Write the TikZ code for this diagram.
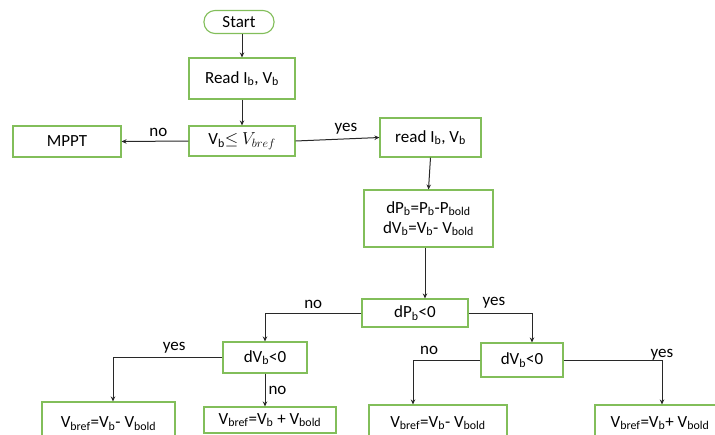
\documentclass[tikz,border=0pt]{standalone}
\usepackage{fontspec}
\setmainfont{Carlito}
\usetikzlibrary{arrows.meta}
\definecolor{boxgreen}{RGB}{130,190,90}
\definecolor{linegray}{RGB}{40,40,40}
\newcommand{\sbx}[1]{\textsubscript{#1}}
\tikzset{
  fbox/.style={draw=boxgreen, line width=1.1pt, fill=white, inner sep=0pt, align=center, font=\fontsize{17}{20}\selectfont},
  arr/.style={draw=linegray, line width=1pt, -{Stealth[length=5pt,width=4.5pt]}},
  lbl/.style={font=\fontsize{17}{20}\selectfont, inner sep=0pt}
}
\begin{document}
\begin{tikzpicture}[x=1pt,y=-1pt]
\useasboundingbox (0,0) rectangle (715,434);
\clip (0,0) rectangle (715,434);
\node[fbox, rounded corners=11pt, minimum width=70pt, minimum height=23pt] (start) at (239,22) {Start};
\node[fbox, minimum width=106pt, minimum height=41pt] (read1) at (242,78.5) {Read I\sbx{b}, V\sbx{b}};
\node[fbox, minimum width=106pt, minimum height=30pt] (cond1) at (242,141) {V\sbx{b}$\leq$ $V_{bref}$};
\node[fbox, minimum width=108pt, minimum height=31pt] (mppt) at (67,141.5) {MPPT};
\node[fbox, minimum width=101pt, minimum height=39pt] (read2) at (430.5,137.5) {read I\sbx{b}, V\sbx{b}};
\node[fbox, minimum width=129pt, minimum height=57pt] (calc) at (428.5,218.5) {dP\sbx{b}=P\sbx{b}-P\sbx{bold}\\[0pt]dV\sbx{b}=V\sbx{b}- V\sbx{bold}};
\node[fbox, minimum width=106pt, minimum height=28pt] (cond2) at (415,313) {dP\sbx{b}<0};
\node[fbox, minimum width=84pt, minimum height=31pt] (dv1) at (265,357.5) {dV\sbx{b}<0};
\node[fbox, minimum width=82pt, minimum height=34pt] (dv2) at (522,360) {dV\sbx{b}<0};
\node[fbox, minimum width=133pt, minimum height=40pt, text depth=0pt] (b1) at (108.5,422) {V\sbx{bref}=V\sbx{b}- V\sbx{bold}};
\node[fbox, minimum width=132pt, minimum height=26pt] (b2) at (270,420) {V\sbx{bref}=V\sbx{b} + V\sbx{bold}};
\node[fbox, minimum width=138pt, minimum height=36pt] (b3) at (438,423) {V\sbx{bref}=V\sbx{b}- V\sbx{bold}};
\node[fbox, minimum width=130pt, minimum height=36pt] (b4) at (660,423) {V\sbx{bref}=V\sbx{b}+ V\sbx{bold}};

\draw[arr] (read1.north |- start.south) -- (read1.north);
\draw[arr] (read1) -- (cond1);
\draw[arr] (cond1.west) -- (mppt.east) node[lbl, pos=0.45, above=4pt] {no};
\draw[arr] (cond1.east) -- (read2.west) node[lbl, pos=0.6, above=4pt] {yes};
\draw[arr] (read2.south) -- (calc.north);
\draw[arr] ([xshift=-3.5pt]calc.south) -- ([xshift=-3.5pt]calc.south |- cond2.north);
\draw[arr] (cond2.west) -| (dv1.north) node[lbl, pos=0.25, above=4pt] {no};
\draw[arr] (cond2.east) -| ([xshift=10pt]dv2.north) node[lbl, pos=0.2, above=4pt] {yes};
\draw[arr] (dv1.west) -| ([xshift=4.5pt]b1.north) node[lbl, pos=0.22, above=4pt] {yes};
\draw[arr] (dv1.south) -- (dv1.south |- b2.north) node[lbl, midway, right=3pt] {no};
\draw[arr] (dv2.west) -| ([xshift=-25pt]b3.north) node[lbl, pos=0.38, above=5pt] {no};
\draw[arr] (dv2.east) -| ([xshift=2pt]b4.north) node[lbl, pos=0.55, above=4pt] {yes};
\end{tikzpicture}
\end{document}
